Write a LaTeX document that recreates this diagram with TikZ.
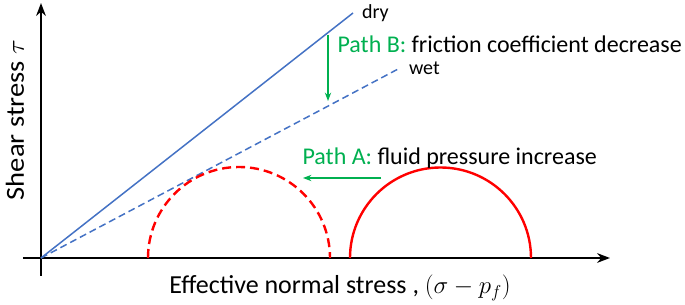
\documentclass[tikz,border=0pt]{standalone}
\usepackage{amsmath}
\usepackage{fontspec}
\setmainfont{Carlito}
\usepackage{xcolor}
\definecolor{lineblue}{RGB}{68, 114, 196}
\definecolor{pathgreen}{RGB}{0, 176, 80}
\definecolor{circlered}{RGB}{255, 0, 0}
\usepackage{tikz}
\usetikzlibrary{arrows.meta, positioning, calc}

\begin{document}
\begin{tikzpicture}[x=1pt, y=1pt, >=Stealth, font=\fontsize{24}{28}\selectfont]
    \useasboundingbox (-41,-47) rectangle (644,258);
    \coordinate (O) at (0,0);
    \coordinate (Ytop) at (0,255);
    \coordinate (Ybot) at (0,-18);
    \coordinate (Xleft) at (-18,0);
    \coordinate (Xright) at (569,0);
    \draw[->, line width=2.2pt] (Ybot) -- (Ytop);
    \draw[->, line width=2.2pt] (Xleft) -- (Xright);
    \coordinate (dryEnd) at (312,245);
    \coordinate (wetEnd) at (359,190);
    \draw[lineblue, line width=1.5pt] (O) -- (dryEnd) node[right=5pt, text=black, font=\fontsize{20}{24}\selectfont] (dry) {dry};
    \draw[lineblue, line width=1.5pt, dash pattern=on 7pt off 4pt] (O) -- (wetEnd) node[right=5pt, text=black, font=\fontsize{20}{24}\selectfont] (wet) {wet};
    \draw[circlered, line width=2.4pt, dash pattern=on 9pt off 5pt] (107,0) arc[start angle=180, end angle=0, radius=91];
    \draw[circlered, line width=2.4pt] (309,0) arc[start angle=180, end angle=0, radius=90.5];
    \node[anchor=west] (pathB) at (293,214) {\textcolor{pathgreen}{Path B:} friction coefficient decrease};
    \coordinate (Bstart) at (287,223);
    \coordinate (Bend) at (287,157);
    \draw[->, pathgreen, line width=1.2pt] (Bstart) -- (Bend);
    \node[anchor=west] (pathA) at (258,100) {\textcolor{pathgreen}{Path A:} fluid pressure increase};
    \coordinate (Astart) at (340,80);
    \coordinate (Aend) at (262,80);
    \draw[->, pathgreen, line width=1.2pt] (Astart) -- (Aend);
    \node[rotate=90, font=\fontsize{26}{30}\selectfont] (ylabel) at (-26,138) {\scalebox{1.1}[1]{Shear stress $\tau$}};
    \node[font=\fontsize{26}{31}\selectfont] (xlabel) at (299,-30) {Effective normal stress , $(\sigma - p_f)$};
\end{tikzpicture}
\end{document}
